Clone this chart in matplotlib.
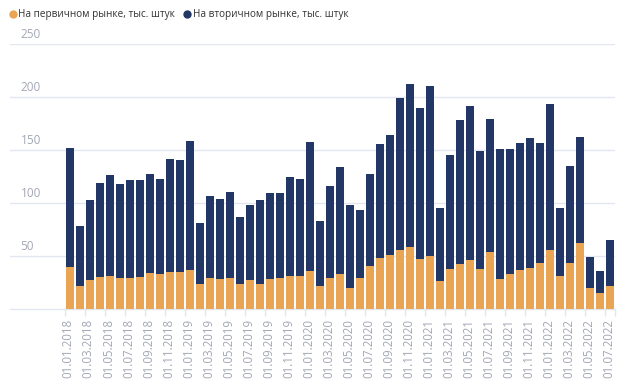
import numpy as np
import matplotlib
matplotlib.use("Agg")
import matplotlib.pyplot as plt
from matplotlib.lines import Line2D

plt.rcParams["font.family"] = ["Open Sans", "DejaVu Sans"]

# ---------------- Data ----------------
months = [f"01.{m:02d}.{y}" for y in range(2018, 2023) for m in range(1, 13)][:55]

primary = [39.6, 21.7, 27.7, 30.5, 31.4, 29.6, 29.6, 30.5, 34.3, 33.3, 35.5, 35.5,
           37.1, 23.6, 29.6, 28.6, 29.2, 24.2, 27.4, 24.2, 28.3, 29.2, 31.1, 31.1,
           36.5, 22.3, 29.2, 33.3, 20.4, 29.2, 41.2, 48.4, 51.3, 56.3, 58.5, 47.5,
           50.3, 26.4, 37.7, 42.5, 46.5, 37.7, 53.8, 28.6, 33.3, 37.4, 39.3, 43.4,
           55.7, 31.4, 43.4, 62.6, 20.4, 15.4, 22.3]
secondary = [112.9, 56.6, 75.8, 89.0, 95.0, 89.0, 92.1, 91.2, 93.4, 89.3, 106.0, 105.1,
             121.4, 57.8, 77.3, 75.8, 81.2, 63.2, 71.0, 79.3, 81.8, 80.9, 93.4, 92.2,
             121.0, 61.0, 87.2, 101.0, 78.0, 64.2, 86.2, 107.3, 112.9, 143.4, 153.8, 142.1,
             160.7, 68.9, 107.6, 136.1, 145.0, 111.7, 125.4, 122.7, 118.0, 119.8, 122.6, 113.8,
             137.7, 63.9, 92.1, 99.7, 29.0, 21.1, 42.8]

y_ticks = [50, 100, 150, 200, 250]
labels = ["На первичном рынке, тыс. штук", "На вторичном рынке, тыс. штук"]

ORANGE = "#E9A553"
NAVY = "#233766"
GRID = "#E3E6F0"
TICK_TXT = "#A3A7B5"

# ---------------- Plot ----------------
fig = plt.figure(figsize=(6.28, 3.85), dpi=100)
ax = fig.add_axes([10 / 628, 1 - 309.3 / 385, 605 / 628, (309.3 - 44.3) / 385])

x = np.arange(len(months))
ax.bar(x, primary, width=0.8, color=ORANGE, edgecolor="none", zorder=3)
ax.bar(x, secondary, width=0.8, bottom=primary, color=NAVY, edgecolor="none", zorder=3)

ax.set_xlim(-5.95, 54.5)
ax.set_ylim(0, 250)

# grid lines + y labels drawn inside the plot area
for v in y_ticks:
    ax.axhline(v, color=GRID, linewidth=1.0, zorder=1)
    ax.annotate(str(v), xy=(0.0173, v), xycoords=("axes fraction", "data"),
                xytext=(0, 2.5), textcoords="offset points",
                ha="left", va="bottom", fontsize=8.5, color=TICK_TXT)
ax.set_yticks([])

for s in ["top", "right", "left"]:
    ax.spines[s].set_visible(False)
ax.spines["bottom"].set_color(GRID)
ax.spines["bottom"].set_linewidth(1.0)

# x ticks: labels every 2 months, tick marks at band edges
ax.set_xticks(x[::2] - 0.12)
ax.set_xticklabels(months[::2], rotation=90, fontsize=8.3, color=TICK_TXT)
ax.tick_params(axis="x", which="major", length=0, pad=7)
ax.set_xticks(list(x[::2] - 0.5) + [54.5], minor=True)
ax.tick_params(axis="x", which="minor", length=5, color=GRID, width=1)

# legend
handles = [Line2D([], [], linestyle="none", marker="o", markersize=6,
                  markerfacecolor=c, markeredgecolor="none") for c in (ORANGE, NAVY)]
fig.legend(handles, labels, loc="center left", bbox_to_anchor=(0.008, 1 - 15 / 385),
           ncol=2, frameon=False, fontsize=7.2, handletextpad=0.2,
           columnspacing=0.9, handlelength=0.7, borderaxespad=0,
           labelcolor="#333333")

fig.savefig("out.png", dpi=100)
plt.close(fig)
